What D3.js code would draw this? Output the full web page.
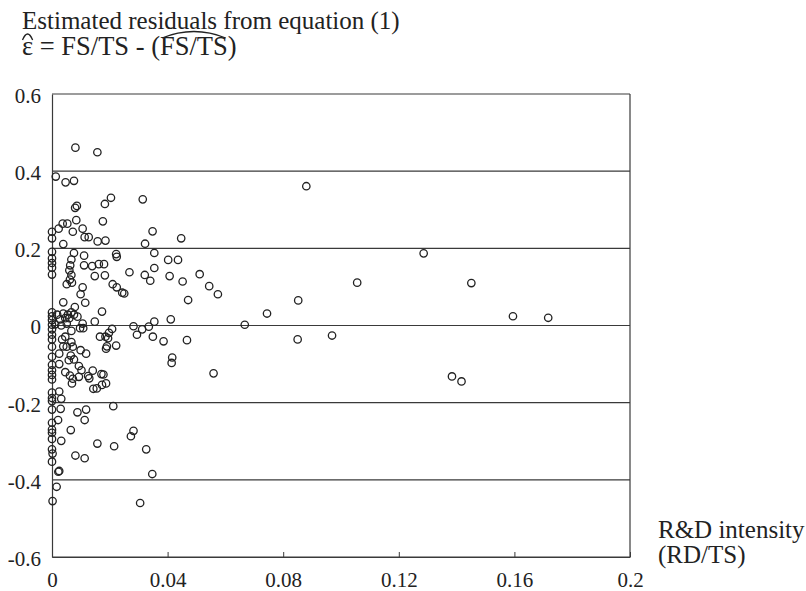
<!DOCTYPE html>
<head>
  <meta charset="utf-8">
  <script src="https://d3js.org/d3.v7.min.js"></script>
  <style>
    body { margin: 0; background: #fff; }
    svg text { font-family: "Liberation Serif", "Times New Roman", serif; fill: #222; }
  </style>
</head>
<body>

<div id="my_dataviz"></div>

<script>

  // tick values and labels
  var xTicks = [0, 0.04, 0.08, 0.12, 0.16, 0.2];
  var xTickLabels = ["0", "0.04", "0.08", "0.12", "0.16", "0.2"];
  var yTicks = [-0.6, -0.4, -0.2, 0, 0.2, 0.4, 0.6];
  var yTickLabels = ["-0.6", "-0.4", "-0.2", "0", "0.2", "0.4", "0.6"];

  // R&D intensity (RD/TS) of each firm
  var rdIntensity = [
    0.0081, 0.0157, 0.0013, 0.0047, 0.0076, 0.0204, 0.0314, 0.0183, 0.0086, 0.0080,
    0.0176, 0.0084, 0.0000, 0.0023, 0.0037, 0.0053, 0.0072, 0.0106, 0.0113, 0.0127,
    0.0000, 0.0039, 0.0158, 0.0185, 0.0348, 0.0322, 0.0447, 0.0000, 0.0076, 0.0111,
    0.0222, 0.0224, 0.0354, 0.0402, 0.0436, 0.0880, 0.0000, 0.0000, 0.0000, 0.0000,
    0.0067, 0.0063, 0.0060, 0.0067, 0.0062, 0.0051, 0.0069, 0.0111, 0.0139, 0.0162,
    0.0180, 0.0148, 0.0183, 0.0268, 0.0321, 0.0340, 0.0354, 0.0407, 0.0452, 0.0511,
    0.0544, 0.0574, 0.0106, 0.0099, 0.0210, 0.0224, 0.0243, 0.0250, 0.0115, 0.0039,
    0.0079, 0.0471, 0.0173, 0.0852, 0.0744, 0.0667, 0.1056, 0.1286, 0.1451, 0.1595,
    0.1717, 0.0850, 0.0969, 0.0559, 0.1384, 0.1417, 0.0467, 0.0282, 0.0312, 0.0335,
    0.0354, 0.0411, 0.0294, 0.0349, 0.0386, 0.0208, 0.0197, 0.0166, 0.0185, 0.0194,
    0.0187, 0.0190, 0.0222, 0.0416, 0.0414, 0.0106, 0.0148, 0.0097, 0.0108, 0.0018,
    0.0039, 0.0055, 0.0067, 0.0076, 0.0088, 0.0028, 0.0046, 0.0060, 0.0011, 0.0032,
    0.0051, 0.0067, 0.0000, 0.0000, 0.0000, 0.0000, 0.0000, 0.0000, 0.0000, 0.0000,
    0.0000, 0.0000, 0.0000, 0.0000, 0.0000, 0.0000, 0.0000, 0.0000, 0.0035, 0.0046,
    0.0067, 0.0039, 0.0072, 0.0025, 0.0099, 0.0118, 0.0065, 0.0058, 0.0076, 0.0025,
    0.0093, 0.0102, 0.0046, 0.0062, 0.0093, 0.0125, 0.0141, 0.0129, 0.0171, 0.0178,
    0.0069, 0.0143, 0.0155, 0.0173, 0.0187, 0.0025, 0.0032, 0.0051, 0.0072, 0.0000,
    0.0030, 0.0088, 0.0118, 0.0212, 0.0000, 0.0021, 0.0113, 0.0000, 0.0000, 0.0065,
    0.0282, 0.0273, 0.0000, 0.0032, 0.0157, 0.0215, 0.0326, 0.0000, 0.0002, 0.0081,
    0.0113, 0.0000, 0.0025, 0.0022, 0.0347, 0.0016, 0.0002, 0.0305
  ];

  // estimated residuals from equation (1)
  var residuals = [
    0.461, 0.449, 0.386, 0.371, 0.375, 0.331, 0.327, 0.315, 0.310, 0.305,
    0.270, 0.273, 0.243, 0.251, 0.264, 0.264, 0.243, 0.251, 0.229, 0.229,
    0.226, 0.211, 0.218, 0.220, 0.244, 0.212, 0.226, 0.191, 0.188, 0.181,
    0.185, 0.178, 0.188, 0.170, 0.170, 0.361, 0.174, 0.162, 0.150, 0.132,
    0.171, 0.156, 0.143, 0.131, 0.119, 0.107, 0.111, 0.156, 0.154, 0.159,
    0.159, 0.128, 0.130, 0.138, 0.131, 0.116, 0.149, 0.128, 0.114, 0.133,
    0.102, 0.081, 0.099, 0.081, 0.107, 0.099, 0.085, 0.083, 0.059, 0.060,
    0.048, 0.066, 0.036, 0.065, 0.031, 0.002, 0.111, 0.187, 0.110, 0.024,
    0.020, -0.036, -0.026, -0.124, -0.132, -0.145, -0.038, -0.002, -0.010, -0.003,
    0.010, 0.016, -0.024, -0.029, -0.041, -0.009, -0.019, -0.029, -0.029, -0.033,
    -0.060, -0.054, -0.052, -0.083, -0.097, 0.005, 0.010, -0.007, -0.007, 0.028,
    0.031, 0.028, 0.034, 0.028, 0.023, 0.016, 0.019, 0.019, 0.003, 0.000,
    0.005, -0.014, 0.034, 0.024, 0.014, 0.002, -0.010, -0.024, -0.036, -0.055,
    -0.081, -0.102, -0.116, -0.128, -0.140, -0.174, -0.188, -0.196, -0.036, -0.029,
    -0.043, -0.054, -0.055, -0.073, -0.064, -0.073, -0.078, -0.090, -0.088, -0.100,
    -0.105, -0.116, -0.121, -0.130, -0.133, -0.131, -0.117, -0.137, -0.126, -0.127,
    -0.150, -0.164, -0.163, -0.154, -0.150, -0.171, -0.190, -0.055, -0.138, -0.218,
    -0.216, -0.225, -0.218, -0.209, -0.252, -0.245, -0.245, -0.270, -0.278, -0.271,
    -0.273, -0.287, -0.294, -0.299, -0.306, -0.313, -0.321, -0.321, -0.332, -0.337,
    -0.344, -0.353, -0.377, -0.379, -0.385, -0.418, -0.455, -0.460
  ];

  var points = rdIntensity.map(function(d, i) { return {x: d, y: residuals[i]}; });

  // the plot frame in page pixels
  var W = 806, H = 591;
  var frame = {left: 52, right: 630, top: 94, bottom: 557};
  var lineColor = "#3a3a3a";
  var serif = "Liberation Serif, Times New Roman, serif";

  var svg = d3.select("#my_dataviz")
    .append("svg")
      .attr("width", W)
      .attr("height", H);

  var x = d3.scaleLinear().domain([0, 0.2]).range([frame.left, frame.right]);
  var y = d3.scaleLinear().domain([-0.6, 0.6]).range([frame.bottom, frame.top]);

  // horizontal lines at every labelled value (top and bottom close the frame)
  svg.append("g")
    .selectAll("line")
    .data(yTicks)
    .enter()
    .append("line")
      .attr("x1", x(0))
      .attr("x2", x(0.2))
      .attr("y1", function(d) { return y(d); })
      .attr("y2", function(d) { return y(d); })
      .style("stroke", lineColor)
      .style("stroke-width", 1.2);

  // right edge of the frame
  svg.append("line")
    .attr("x1", x(0.2)).attr("x2", x(0.2))
    .attr("y1", y(0.6)).attr("y2", y(-0.6))
    .style("stroke", lineColor)
    .style("stroke-width", 1.2);

  // bottom axis, ticks pointing up
  var xAxis = svg.append("g")
    .attr("transform", "translate(0," + y(-0.6) + ")")
    .call(d3.axisBottom(x)
      .tickValues(xTicks)
      .tickFormat(function(d, i) { return xTickLabels[i]; })
      .tickSizeInner(-5)
      .tickSizeOuter(0)
      .tickPadding(15))
    .attr("font-family", serif)
    .attr("font-size", 21);
  xAxis.select(".domain").style("stroke", lineColor).style("stroke-width", 1.2);
  xAxis.selectAll(".tick line").style("stroke", lineColor);
  xAxis.selectAll("text").attr("fill", "#222");

  // left axis
  var yAxis = svg.append("g")
    .attr("transform", "translate(" + x(0) + ",0)")
    .call(d3.axisLeft(y)
      .tickValues(yTicks)
      .tickFormat(function(d, i) { return yTickLabels[i]; })
      .tickSize(0)
      .tickPadding(11))
    .attr("font-family", serif)
    .attr("font-size", 21);
  yAxis.select(".domain").style("stroke", lineColor).style("stroke-width", 1.2);
  yAxis.selectAll("text").attr("dy", "0.4em").attr("fill", "#222");

  // the scatter of open circles
  svg.append("g")
    .selectAll("circle")
    .data(points)
    .enter()
    .append("circle")
      .attr("cx", function(d) { return x(d.x); })
      .attr("cy", function(d) { return y(d.y); })
      .attr("r", 3.7)
      .style("fill", "none")
      .style("stroke", "#222")
      .style("stroke-width", 1.3);

  // title, two lines
  svg.append("text")
    .attr("x", 22)
    .attr("y", 29)
    .style("font-size", "25px")
    .text("Estimated residuals from equation (1)");

  var eq = svg.append("text")
    .attr("x", 22)
    .attr("y", 55)
    .style("font-size", "26.5px");
  eq.append("tspan").text("\u03B5");
  eq.append("tspan").text(" = FS/TS - (");
  eq.append("tspan").text("FS/TS");
  eq.append("tspan").text(")");

  // hats over epsilon and over the fitted FS/TS
  var node = eq.node();
  var full = node.textContent;
  var epsW = node.getSubStringLength(0, 1);
  var startFit = full.indexOf("(") + 1;
  var fitX0 = 22 + node.getSubStringLength(0, startFit);
  var fitW = node.getSubStringLength(startFit, 5);

  svg.append("path")
    .attr("d", "M" + 22.5 + "," + 40 + " Q" + (22 + epsW / 2) + "," + 28 + " " + (22 + epsW - 0.5) + "," + 40)
    .style("fill", "none")
    .style("stroke", "#222")
    .style("stroke-width", 1.3);

  svg.append("path")
    .attr("d", "M" + (fitX0 + 2) + "," + 38 + " Q" + (fitX0 + fitW / 2) + "," + 25 + " " + (fitX0 + fitW - 2) + "," + 38)
    .style("fill", "none")
    .style("stroke", "#222")
    .style("stroke-width", 1.3);

  // x axis title on the right
  svg.append("text")
    .attr("x", 658)
    .attr("y", 538)
    .style("font-size", "25px")
    .text("R&D intensity");
  svg.append("text")
    .attr("x", 658)
    .attr("y", 563)
    .style("font-size", "25px")
    .text("(RD/TS)");

</script>

</body>
